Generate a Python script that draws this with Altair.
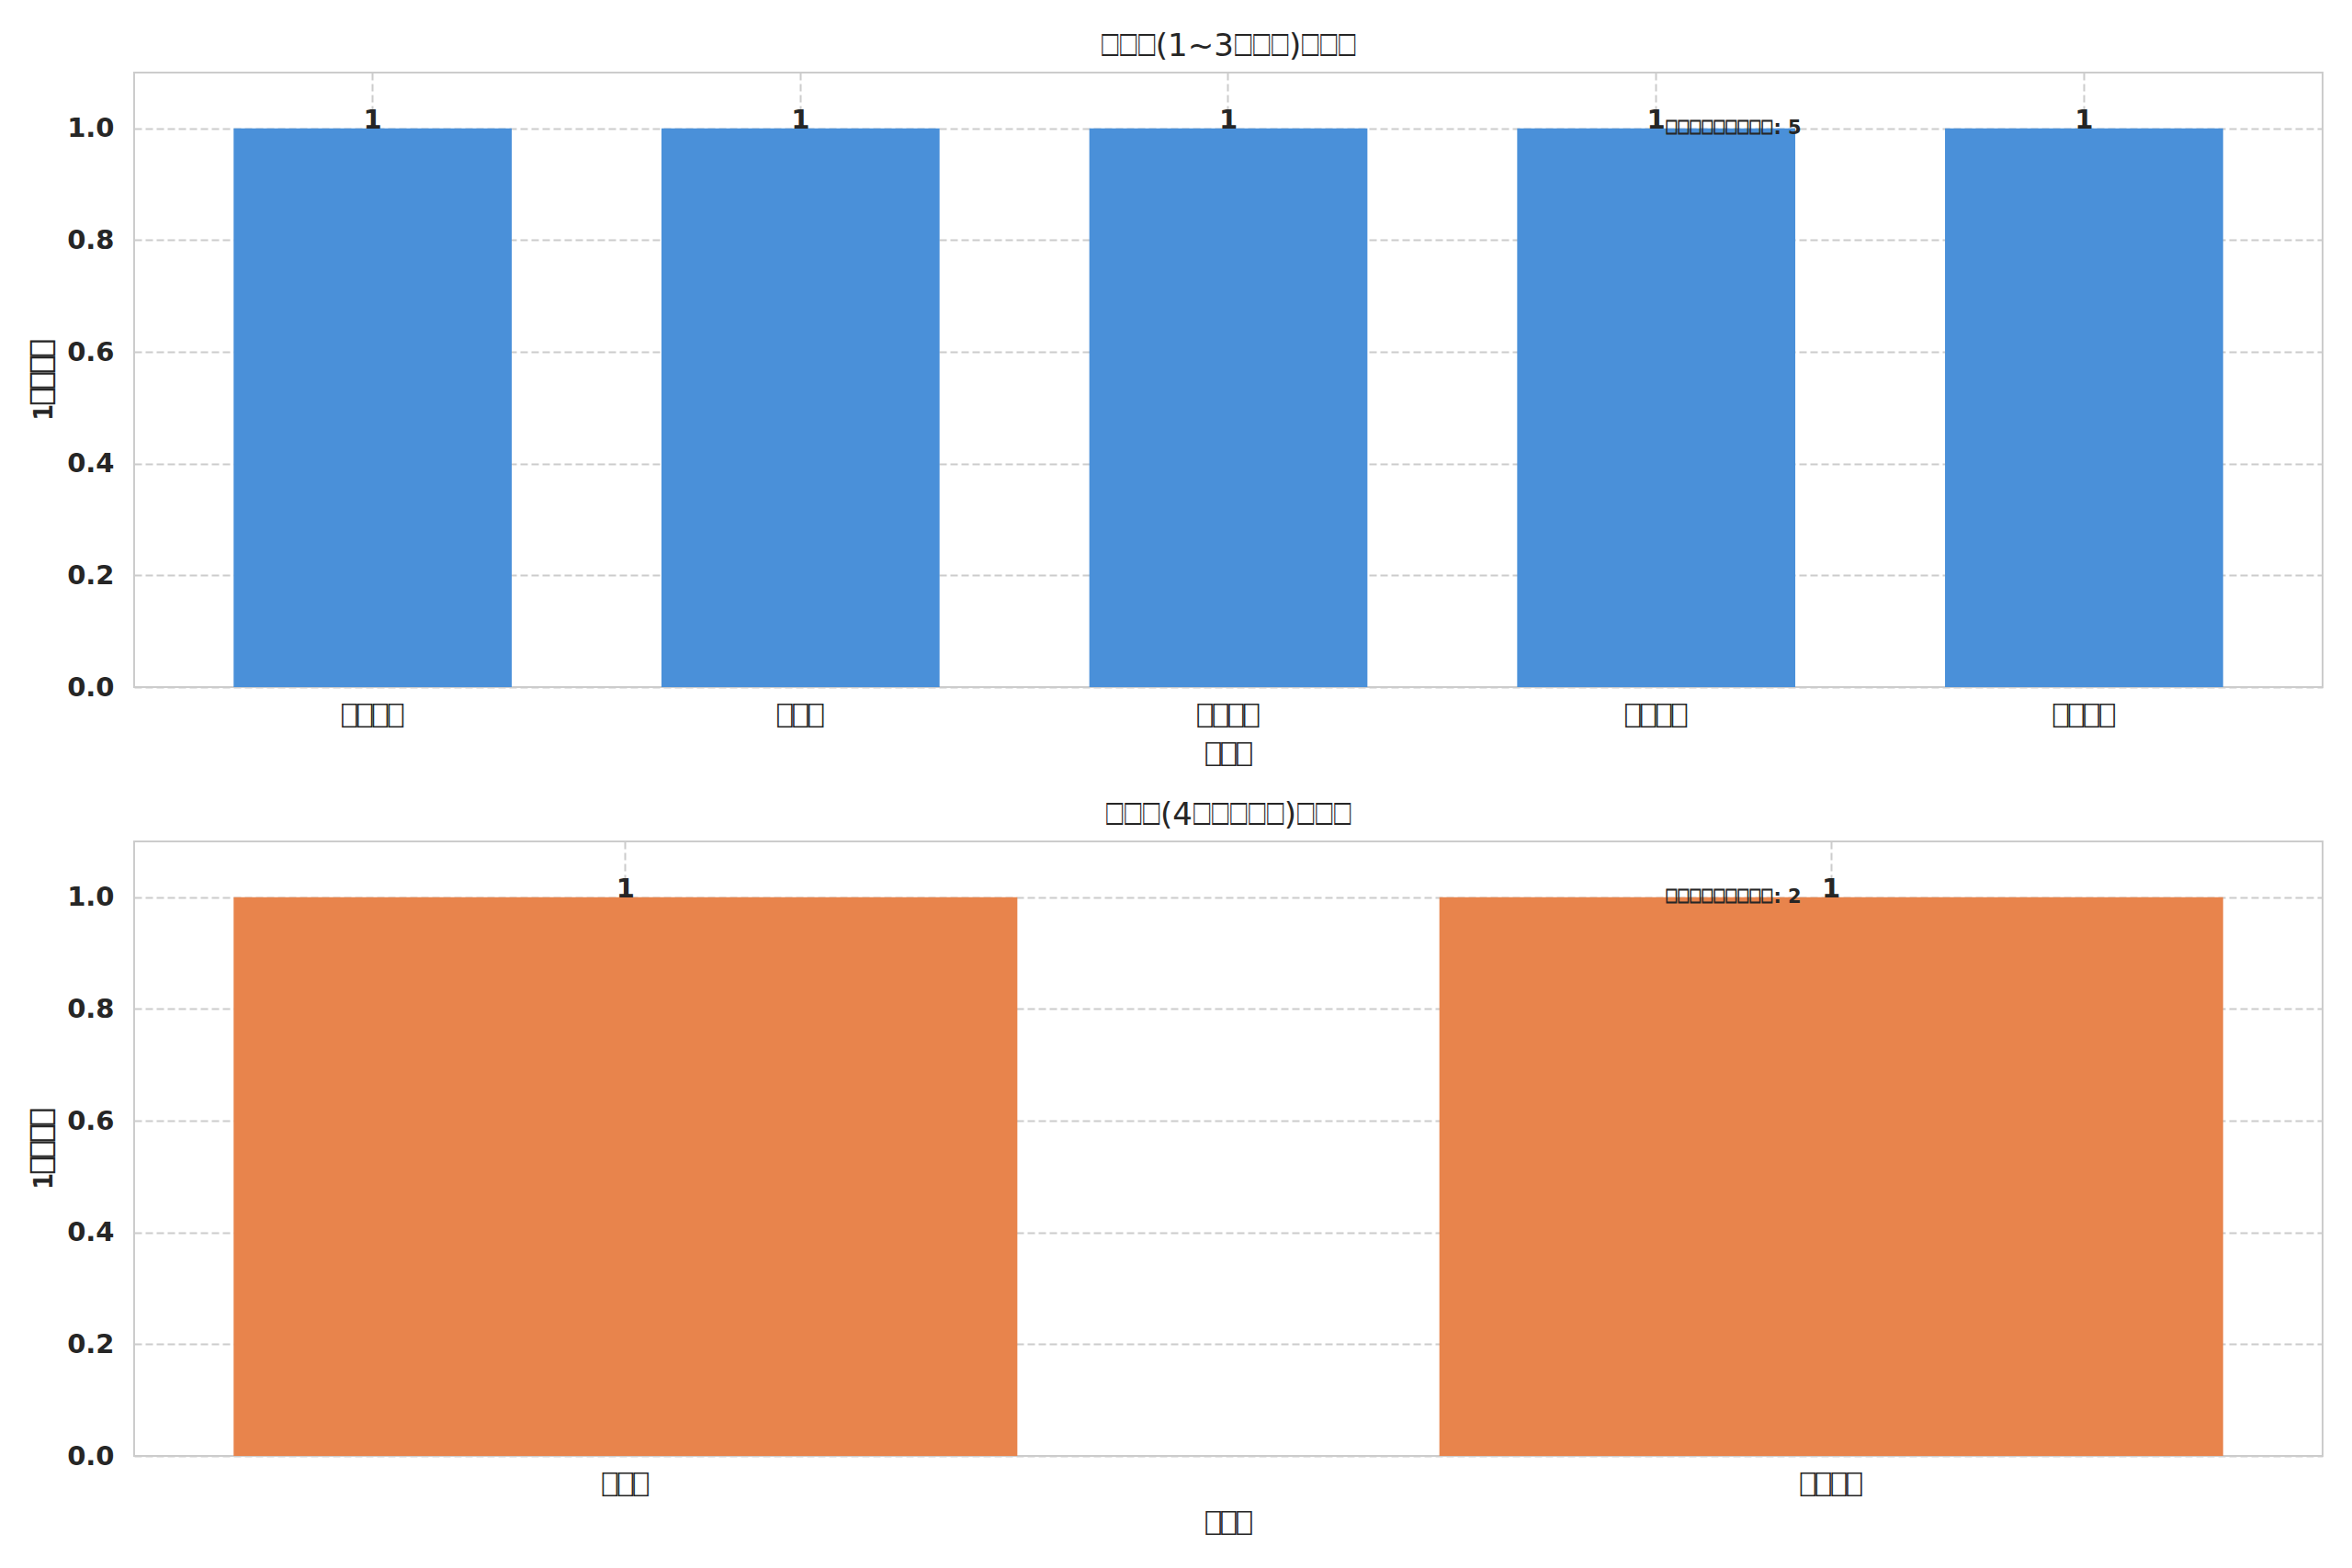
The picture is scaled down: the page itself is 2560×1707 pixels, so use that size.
import altair as alt
import pandas as pd

B = "\u2395"

# ---- data ----
title_top = B * 3 + "(1~3" + B * 3 + ")" + B * 3
title_bottom = B * 3 + "(4" + B * 5 + ")" + B * 3
cats_top = [B * 4, B * 3, B * 4, B * 4, B * 4]
vals_top = [1, 1, 1, 1, 1]
cats_bottom = [B * 3, B * 4]
vals_bottom = [1, 1]
x_title = B * 3
y_title = "1" + B * 4
note_top = B * 9 + ": 5"
note_bottom = B * 9 + ": 2"
y_ticks = [0.0, 0.2, 0.4, 0.6, 0.8, 1.0]

BLUE = "#4a90d9"
ORANGE = "#e8844c"
TXT = "#262626"
GRID = "#cccccc"
FONT = "DejaVu Sans"
BOXFONT = "DejaVu Sans Mono"

W = 2382
H = 669


def panel(cats, vals, color, title, note, pad_outer):
    keys = [str(i) for i in range(len(cats))]
    df = pd.DataFrame({"key": keys, "label": cats, "value": vals})
    label_arr = "[" + ",".join("'" + c + "'" for c in cats) + "]"
    x = alt.X(
        "key:N",
        sort=None,
        scale=alt.Scale(paddingInner=0.35, paddingOuter=pad_outer),
        axis=alt.Axis(
            title=x_title,
            labelAngle=0,
            labelExpr=label_arr + "[toNumber(datum.value)]",
            labelFontSize=28,
            labelFont=BOXFONT,
            labelColor=TXT,
            labelPadding=18,
            titleFontSize=28,
            titleFont=BOXFONT,
            titleFontWeight="normal",
            titleColor=TXT,
            titlePadding=14,
            ticks=False,
            domain=False,
            grid=True,
            gridColor=GRID,
            gridDash=[8, 4],
            gridWidth=2,
            bandPosition=0.5,
        ),
    )
    y = alt.Y(
        "value:Q",
        scale=alt.Scale(domain=[0, 1.1], nice=False, zero=True),
        axis=alt.Axis(
            title=y_title,
            values=y_ticks,
            format=".1f",
            labelFontSize=29,
            labelFont=FONT,
            labelFontWeight="bold",
            labelColor=TXT,
            labelPadding=22,
            titleFontSize=29,
            titleFont=BOXFONT,
            titleFontWeight="bold",
            titleColor=TXT,
            titlePadding=10,
            ticks=False,
            domain=False,
            grid=True,
            gridColor=GRID,
            gridDash=[8, 4],
            gridWidth=2,
        ),
    )
    base = alt.Chart(df)
    bars = base.mark_bar(color=color).encode(x=x, y=y)
    labels = base.mark_text(
        font=FONT, fontSize=29, fontWeight="bold", color=TXT, baseline="alphabetic", align="center"
    ).encode(x=alt.X("key:N", sort=None), y="value:Q", text=alt.Text("value:Q", format="d"))
    note_df = pd.DataFrame({"t": [note]})
    notes = alt.Chart(note_df).mark_text(
        font=FONT, fontSize=21, fontWeight="bold", color=TXT, baseline="alphabetic", align="left"
    ).encode(x=alt.value(W * 0.7), y=alt.value(H * (1 - 0.9)), text="t:N")
    return alt.layer(bars, labels, notes).properties(
        width=W,
        height=H,
        title=alt.TitleParams(title, font=FONT, fontSize=34, fontWeight="normal", color=TXT, offset=11),
    )


top = panel(cats_top, vals_top, BLUE, title_top, note_top, 0.2325)
bottom = panel(cats_bottom, vals_bottom, ORANGE, title_bottom, note_bottom, 0.0825)

chart = (
    alt.vconcat(top, bottom, spacing=33)
    .properties(padding={"left": 24, "top": 25, "right": 5, "bottom": 5}, background="white")
    .configure_view(stroke=GRID, strokeWidth=2)
    .resolve_scale(x="independent")
)

chart.save("out.html", embed_options={"renderer": "svg", "actions": False})
